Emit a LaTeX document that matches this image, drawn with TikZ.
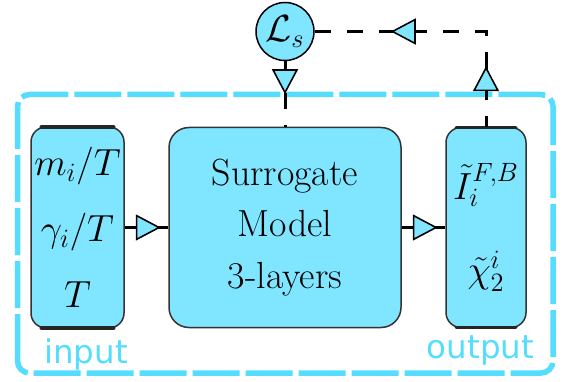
\RequirePackage{fix-cm}
\documentclass[tikz,border=0pt]{standalone}
\usepackage{fontspec}
\usepackage{xcolor}
\newfontfamily\labelfont{DejaVu Sans}
\usetikzlibrary{positioning}
\usetikzlibrary{arrows.meta}
\usetikzlibrary{decorations.markings}
\definecolor{fillblue}{HTML}{80E5FF}
\definecolor{edgeblue}{HTML}{55DDFF}
\tikzset{
	tri/.tip={Triangle[length=0.5cm, width=0.52cm, fill=fillblue, line width=0.9pt]},
	mid arrow/.style={postaction={decorate}, decoration={markings, mark=at position #1 with {\arrow{tri}}}},
	back arrows/.style 2 args={postaction={decorate}, decoration={markings,
		mark=at position #1 with {\draw[solid] (0,0) -- (0.44,0); \arrowreversed{tri}},
		mark=at position #2 with {\draw[solid] (0,0) -- (0.44,0); \arrowreversed{tri}}}},
}

\begin{document}
\begin{tikzpicture}[font=\fontsize{21.5}{29.3}\selectfont]
\tikzstyle{box}=[draw=black!80, line width=0.03cm, fill=fillblue, rounded corners=0.3cm, inner sep=0pt, align=center]
\tikzstyle{model}=[box, rounded corners=0.4cm]
\tikzstyle{loss}=[draw=black, line width=0.03cm, circle, fill=fillblue, minimum size=1.16cm, inner sep=0pt]
\tikzstyle{wire}=[line width=0.06cm]
\tikzstyle{fb}=[wire, dash pattern=on 0.32cm off 0.32cm]
\tikzstyle{rim}=[line width=0.07cm, draw=black!85, line cap=round]
\tikzstyle{region}=[draw=edgeblue, line width=0.11cm, dash pattern=on 0.94cm off 0.12cm, rounded corners=0.24cm]
\tikzstyle{annot}=[text=edgeblue, font=\labelfont\fontsize{18.5}{22}\selectfont, anchor=base]

\useasboundingbox (0,0) rectangle (11.38,7.62);

% dashed frame round the whole model
\draw[region] (0.35,0.16) rectangle (11.06,5.73);

\node[box, minimum width=1.86cm, minimum height=4.02cm] (in) at (1.55,3.07) {$m_i/T$\\[0.29cm]$\gamma_i/T$\\[0.29cm]$T$};
\node[model, minimum width=4.64cm, minimum height=4cm] (SM) at (5.70,3.07) {Surrogate\\Model\\3-layers};
\node[box, minimum width=1.6cm, minimum height=4cm] (out) at (9.72,3.07) {$\tilde{I}_i^{F,B}$\\[0.63cm]$\tilde{\chi}_2^i$};
\node[loss] (Ls) at (5.70,6.99) {$\mathcal{L}_s$};

% heavier top and bottom edges
\draw[rim] ([xshift=0.22cm, yshift=-0.015cm]in.north west) -- ([xshift=-0.22cm, yshift=-0.015cm]in.north east);
\draw[rim] ([xshift=0.22cm, yshift=0.015cm]in.south west) -- ([xshift=-0.22cm, yshift=0.015cm]in.south east);
\draw[rim] ([xshift=0.22cm, yshift=-0.015cm]out.north west) -- ([xshift=-0.22cm, yshift=-0.015cm]out.north east);
\draw[rim] ([xshift=0.22cm, yshift=0.015cm]out.south west) -- ([xshift=-0.22cm, yshift=0.015cm]out.south east);

\node[annot] (inlab) at ([xshift=0.17cm, yshift=-0.7cm]in.south) {input};
\node[annot] (outlab) at ([xshift=-0.11cm, yshift=-0.6cm]out.south) {output};

\draw[wire, mid arrow=0.72cm] (in) -- (SM);
\draw[wire, mid arrow=0.72cm] (SM) -- (out);
\draw[fb, mid arrow=0.66cm] (Ls) -- (SM);
\draw[fb, back arrows={1.52cm}{4.12cm}] (Ls) -| (out);
\end{tikzpicture}
\end{document}
